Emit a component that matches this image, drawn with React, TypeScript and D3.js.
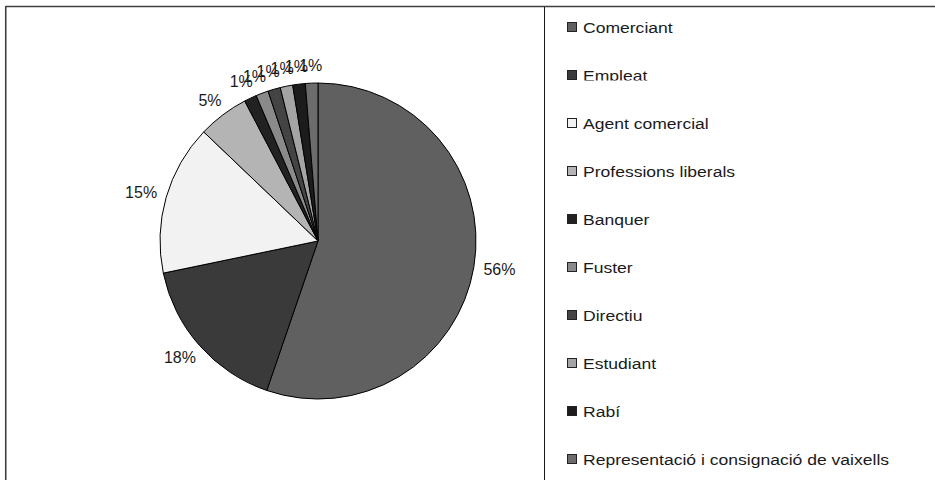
import React from "react";
import * as d3 from "d3";

const categories = [
  "Comerciant",
  "Empleat",
  "Agent comercial",
  "Professions liberals",
  "Banquer",
  "Fuster",
  "Directiu",
  "Estudiant",
  "Rabí",
  "Representació i consignació de vaixells",
];
const values = [55.3, 16.5, 15.4, 5.2, 1.28, 1.28, 1.28, 1.28, 1.28, 1.28];
const percentLabels = ["56%", "18%", "15%", "5%", "1%", "1%", "1%", "1%", "1%", "1%"];
const colors = [
  "#606060",
  "#3a3a3a",
  "#f2f2f2",
  "#b4b4b4",
  "#222222",
  "#8a8a8a",
  "#444444",
  "#a4a4a4",
  "#1c1c1c",
  "#6c6c6c",
];

const W = 935;
const H = 480;
const cx = 318;
const cy = 241;
const R = 158;
const FONT = "'Liberation Sans', Arial, sans-serif";

export default function App() {
  const pie = d3.pie<number>().sort(null).value((d) => d);
  const arcs = pie(values);
  const arc = d3.arc<d3.PieArcDatum<number>>().innerRadius(0).outerRadius(R);

  const legendY = d3
    .scalePoint<string>()
    .domain(categories)
    .range([22, 22 + 48 * (categories.length - 1)]);

  return (
    <svg
      width={W}
      height={H}
      style={{ position: "absolute", left: 0, top: 0, background: "#fff" }}
      fontFamily={FONT}
    >
      <defs>
        <clipPath id="clipEmpleat">
          <rect x={560} y={60} width={300} height={20.5} />
        </clipPath>
      </defs>
      <rect x={0} y={0} width={W} height={H} fill="#fff" />
      {/* frame */}
      <line x1={5.75} y1={6.5} x2={W} y2={6.5} stroke="#3f3f3f" strokeWidth={1.6} />
      <line x1={5.75} y1={6} x2={5.75} y2={H} stroke="#3f3f3f" strokeWidth={1.6} />
      <line x1={544.5} y1={7} x2={544.5} y2={H} stroke="#1a1a1a" strokeWidth={1} />

      <g transform={`translate(${cx},${cy})`}>
        {arcs.map((a, i) => (
          <path key={i} d={arc(a) || ""} fill={colors[i]} stroke="#000" strokeWidth={1} />
        ))}
      </g>

      {arcs.map((a, i) => {
        const m = (a.startAngle + a.endAngle) / 2;
        const lbl = percentLabels[i];
        const w = lbl.length === 3 ? 32 : 23;
        const rr = R + 10;
        const x = cx + rr * Math.sin(m) + (Math.sin(m) * w) / 2;
        const y = cy - rr * Math.cos(m) - Math.cos(m) * 8;
        return (
          <text
            key={i}
            x={x}
            y={y}
            textAnchor="middle"
            dominantBaseline="central"
            fontSize={16}
            fill="#1a1a1a"
          >
            {lbl}
          </text>
        );
      })}

      {categories.map((c, i) => {
        const y = legendY(c) as number;
        return (
          <g key={c} clipPath={c === "Empleat" ? "url(#clipEmpleat)" : undefined}>
            <rect x={567.5} y={y + 0.5} width={9} height={9} fill={colors[i]} stroke="#222" strokeWidth={1} />
            <text
              transform={`translate(583,${y + 10.5}) scale(1.17,1)`}
              fontSize={15}
              fill="#1a1a1a"
            >
              {c}
            </text>
          </g>
        );
      })}
    </svg>
  );
}
